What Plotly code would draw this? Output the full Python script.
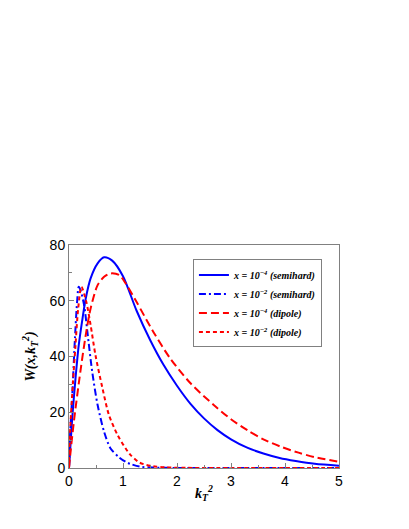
import plotly.graph_objects as go

# x = 1e-4 (semihard)
bs_x = [0, 0.03, 0.06, 0.12, 0.18, 0.25, 0.31, 0.40, 0.53, 0.65, 0.80, 1.00, 1.25, 1.50, 1.75,
        2.00, 2.25, 2.50, 2.75, 3.00, 3.30, 3.60, 3.90, 4.20, 4.55, 5.00]
bs_y = [0, 9, 18, 32, 44, 53.6, 60.8, 68, 73.4, 75.6, 74.4, 68.8, 56.5, 46, 37,
        29.5, 23, 17.8, 13.6, 10.3, 7.3, 5.2, 3.6, 2.5, 1.5, 0.8]

# x = 1e-2 (semihard)
bd_x = [0, 0.02, 0.06, 0.11, 0.15, 0.18, 0.21, 0.28, 0.34, 0.43, 0.53, 0.65, 0.77, 0.93,
        1.05, 1.13, 1.31, 1.56, 2.0, 3.0, 4.0, 5.0]
bd_y = [0, 12, 26, 46.5, 59.6, 65, 64, 58.4, 48.9, 34.5, 22.6, 13, 7, 3.8,
        2.2, 1.5, 0.5, 0.15, 0.02, 0, 0, 0]

# x = 1e-4 (dipole)
rl_x = [0, 0.03, 0.09, 0.21, 0.31, 0.40, 0.53, 0.65, 0.77, 0.93, 1.05, 1.25, 1.56, 1.875,
        2.25, 2.68, 3.0, 3.31, 3.6, 3.93, 4.25, 4.55, 5.0]
rl_y = [0, 6, 16.6, 34.5, 47.7, 57.2, 65.6, 68.6, 69.8, 69.2, 66.2, 59.6, 48.9, 39.3,
        30.4, 22.6, 17.5, 13.5, 10.3, 7.6, 5.5, 3.9, 2.2]

# x = 1e-2 (dipole)
rs_x = [0, 0.02, 0.07, 0.12, 0.17, 0.23, 0.32, 0.40, 0.49, 0.62, 0.74, 0.90, 1.05, 1.13,
        1.31, 1.56, 1.8, 2.2, 3.0, 4.0, 5.0]
rs_y = [0, 13, 29.7, 44, 57.2, 65, 59.6, 51.3, 40.5, 28.6, 19, 11.8, 7, 4.9,
        1.9, 0.6, 0.2, 0.05, 0, 0, 0]

names = ["x = 10<sup>−4</sup> (semihard)", "x = 10<sup>−2</sup> (semihard)",
         "x = 10<sup>−4</sup> (dipole)", "x = 10<sup>−2</sup> (dipole)"]

BLUE = "#0000ff"
RED = "#ff0000"

fig = go.Figure()
fig.add_trace(go.Scatter(x=bs_x, y=bs_y, mode="lines", name=names[0],
                         line=dict(color=BLUE, width=2, shape="spline", smoothing=0.8)))
fig.add_trace(go.Scatter(x=bd_x, y=bd_y, mode="lines", name=names[1],
                         line=dict(color=BLUE, width=2, dash="7px,3px,2px,3px", shape="spline", smoothing=0.8)))
fig.add_trace(go.Scatter(x=rl_x, y=rl_y, mode="lines", name=names[2],
                         line=dict(color=RED, width=2, dash="8px,4px", shape="spline", smoothing=0.8)))
fig.add_trace(go.Scatter(x=rs_x, y=rs_y, mode="lines", name=names[3],
                         line=dict(color=RED, width=2, dash="4px,3px", shape="spline", smoothing=0.8)))

axis_common = dict(
    showline=True, mirror=True, linecolor="#808080", linewidth=1,
    ticks="inside", ticklen=5, tickcolor="#808080",
    showgrid=False, zeroline=False,
    tickfont=dict(family="Liberation Sans", size=14, color="black"),
)

fig.update_xaxes(range=[0, 5], tick0=0, dtick=1,
                 minor=dict(ticks="inside", ticklen=3, dtick=0.5, tickcolor="#808080"),
                 title=dict(text="k<sub>T</sub><sup>2</sup>",
                            font=dict(family="Liberation Serif", size=14, color="black",
                                      style="italic", weight="bold"), standoff=0),
                 **axis_common)
fig.update_yaxes(range=[0, 80], tick0=0, dtick=20,
                 minor=dict(ticks="inside", ticklen=3, dtick=10, tickcolor="#808080"),
                 title=dict(text="W(x,k<sub>T</sub><sup>2</sup>)",
                            font=dict(family="Liberation Serif", size=14, color="black",
                                      style="italic", weight="bold"), standoff=10),
                 **axis_common)

fig.update_layout(
    width=401, height=521,
    margin=dict(l=61, r=70, t=237, b=61),
    paper_bgcolor="white", plot_bgcolor="white",
    showlegend=True,
    legend=dict(x=0.459, y=0.935, xanchor="left", yanchor="top",
                bgcolor="white", bordercolor="#808080", borderwidth=1,
                font=dict(family="Liberation Serif", size=10, color="black",
                          style="italic", weight="bold"),
                itemwidth=30, tracegroupgap=0),
)

fig.write_html("out.html")
